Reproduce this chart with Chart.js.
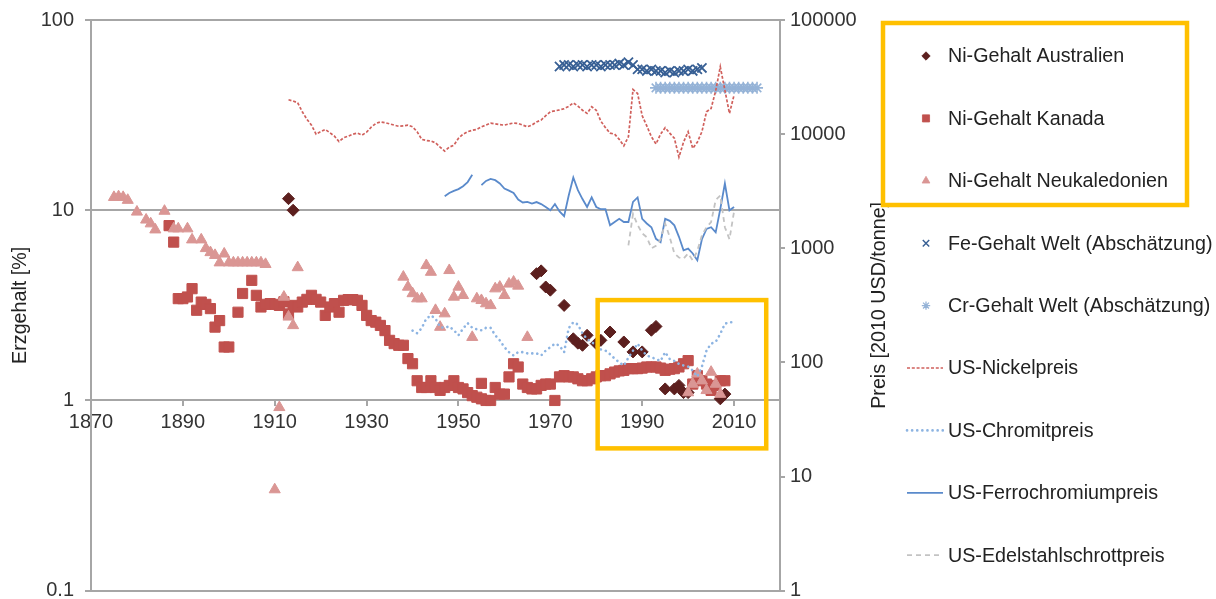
<!DOCTYPE html>
<html>
<head>
<meta charset="utf-8">
<script src="https://cdn.jsdelivr.net/npm/chart.js@4.4.1/dist/chart.umd.min.js"></script>
<style>
    html, body { margin: 0; padding: 0; background: #fff; }
</style>
</head>
<body>
<canvas id="chart" width="1216" height="599"></canvas>
<script>
// --- DATA ---
const xTicks = [1870, 1890, 1910, 1930, 1950, 1970, 1990, 2010];
const gradeTicks = [0.1, 1, 10, 100];
const priceTicks = [1, 10, 100, 1000, 10000, 100000];

// Ni-Gehalt Australien [%]
const ausYears = [1913, 1914, 1967, 1968, 1969, 1970, 1973, 1975, 1976, 1977, 1978, 1980, 1981, 1983, 1986,
    1988, 1990, 1992, 1993, 1995, 1997, 1998, 1999, 2000, 2002, 2007, 2008];
const ausGrade = [11.5, 10.0, 4.64, 4.8, 3.95, 3.8, 3.16, 2.11, 2.0, 1.95, 2.2, 1.99, 2.07, 2.29, 2.03,
    1.8, 1.8, 2.34, 2.45, 1.15, 1.15, 1.2, 1.1, 1.1, 1.27, 1.02, 1.08];

// Ni-Gehalt Kanada [%]
const kanYears = [1887, 1888, 1889, 1890, 1891, 1892, 1893, 1894, 1895, 1896, 1897, 1898, 1899, 1900, 1902, 1903,
    1905, 1906, 1907, 1908, 1909, 1910, 1911, 1912, 1913, 1914, 1915, 1916, 1917, 1918, 1919, 1920,
    1921, 1922, 1923, 1924, 1925, 1926, 1927, 1928, 1929, 1930, 1931, 1932, 1933, 1934, 1935, 1936,
    1937, 1938, 1939, 1940, 1941, 1942, 1943, 1944, 1945, 1946, 1947, 1948, 1949, 1950, 1951, 1952,
    1953, 1954, 1955, 1955, 1956, 1957, 1958, 1959, 1960, 1961, 1962, 1963, 1964, 1965, 1966, 1967,
    1968, 1969, 1970, 1971, 1972, 1973, 1974, 1975, 1976, 1977, 1978, 1979, 1980, 1981, 1982, 1983,
    1984, 1985, 1986, 1987, 1988, 1989, 1990, 1991, 1992, 1993, 1994, 1995, 1996, 1997, 1998, 1999,
    2000, 2001, 2002, 2003, 2004, 2005, 2006, 2007, 2008];
const kanGrade = [8.3, 6.8, 3.43, 3.43, 3.5, 3.87, 2.98, 3.29, 3.2, 3.04, 2.43, 2.63, 1.91, 1.91, 2.91, 3.65,
    4.28, 3.57, 3.1, 3.2, 3.23, 3.2, 3.16, 3.3, 2.85, 3.16, 3.1, 3.29, 3.4, 3.57, 3.4, 3.29,
    2.8, 3.1, 3.23, 2.91, 3.36, 3.39, 3.39, 3.36, 3.16, 2.8, 2.63, 2.58, 2.48, 2.33, 2.07, 1.99,
    1.95, 1.95, 1.66, 1.56, 1.27, 1.17, 1.17, 1.27, 1.17, 1.13, 1.17, 1.2, 1.27, 1.17, 1.15, 1.1,
    1.06, 1.04, 1.23, 1.02, 1.0, 1.0, 1.17, 1.08, 1.08, 1.33, 1.56, 1.5, 1.22, 1.17, 1.15, 1.15,
    1.2, 1.22, 1.22, 1.0, 1.33, 1.35, 1.33, 1.33, 1.3, 1.27, 1.27, 1.3, 1.33, 1.35, 1.35, 1.38,
    1.41, 1.43, 1.44, 1.47, 1.47, 1.47, 1.48, 1.5, 1.5, 1.5, 1.48, 1.44, 1.46, 1.47, 1.5, 1.56,
    1.62, 1.22, 1.35, 1.27, 1.22, 1.13, 1.2, 1.27, 1.27];

// Ni-Gehalt Neukaledonien [%]
const neuYears = [1875, 1876, 1877, 1878, 1880, 1882, 1883, 1884, 1886, 1888, 1889, 1891, 1892, 1894, 1895, 1896,
    1897, 1898, 1899, 1900, 1901, 1902, 1903, 1904, 1905, 1906, 1907, 1908, 1910, 1911, 1912, 1913,
    1914, 1915, 1938, 1939, 1940, 1941, 1942, 1943, 1944, 1945, 1946, 1947, 1948, 1949, 1950, 1951,
    1953, 1954, 1955, 1956, 1957, 1958, 1959, 1960, 1961, 1962, 1963, 1965,
    2000, 2001, 2002, 2003, 2004, 2005, 2006, 2007];
const neuGrade = [11.7, 11.8, 11.7, 11.3, 9.8, 8.9, 8.5, 7.9, 9.9, 8.0, 8.0, 8.0, 7.0, 7.0, 6.3, 6.0,
    5.8, 5.3, 5.9, 5.3, 5.3, 5.3, 5.3, 5.3, 5.3, 5.3, 5.3, 5.2, 0.34, 0.92, 3.5, 2.75,
    2.48, 5.0, 4.46, 3.95, 3.65, 3.43, 3.43, 5.13, 4.73, 2.98, 2.43, 2.86, 4.83, 3.5, 3.95, 3.57,
    2.15, 3.43, 3.36, 3.23, 3.16, 3.87, 3.95, 3.57, 4.1, 4.2, 4.0, 2.15,
    1.1, 1.22, 1.38, 1.27, 1.13, 1.41, 1.22, 1.08];

// Fe-Gehalt Welt [%], 1972-2003
const feFrom = 1972;
const feGrade = [57, 58, 58, 57, 58, 58, 57, 58, 58, 57, 58, 58, 58, 59, 58, 60,
    58, 55, 55, 54, 55, 54, 54, 53, 54, 53, 54, 54, 55, 54, 55, 56];

// Cr-Gehalt Welt [%], 1993-2015
const crFrom = 1993;
const crGrade = [44, 44, 44, 44, 44, 44, 44, 44, 44, 44, 44, 44,
    44, 44, 44, 44, 44, 44, 44, 44, 44, 44, 44];

// US-Nickelpreis [2010 USD/t], 1913-2010
const nickelFrom = 1913;
const nickelPrice = [20000, 19500, 18800, 15700, 13500, 12000, 10000, 10500, 11000, 10300,
    9600, 8600, 9300, 9600, 10000, 10200, 9800, 10400, 11500, 12400,
    12800, 12600, 12300, 12000, 11700, 11800, 12000, 11600, 10500, 9000,
    8800, 8700, 8400, 7700, 7100, 7700, 8000, 9200, 10000, 10500,
    10800, 11000, 11600, 12000, 12500, 12300, 12100, 12000, 12300, 12500,
    12400, 12000, 11600, 12000, 12800, 13300, 14500, 15700, 16000, 16300,
    16700, 17500, 18800, 17600, 16200, 15200, 17400, 16200, 13000, 11400,
    10200, 10000, 9000, 7900, 9500, 24600, 22700, 14500, 11800, 9500,
    8200, 10000, 11400, 10200, 9200, 6300, 8500, 10500, 7500, 8500,
    10500, 15700, 16800, 24000, 38900, 24300, 15200, 22000];

// US-Chromitpreis [2010 USD/t], 1940-2010
const chromitFrom = 1940;
const chromitPrice = [190, 180, 200, 242, 258, 242, 204, 201, 207, 191,
    173, 198, 221, 201, 195, 191, 201, 201, 173, 156,
    136, 123, 115, 123, 123, 120, 120, 120, 115, 127,
    136, 146, 140, 123, 200, 225, 215, 180, 160, 151,
    140, 130, 127, 118, 108, 100, 94, 110, 127, 146,
    127, 115, 111, 107, 103, 123, 107, 103, 97, 94,
    92, 85, 75, 92, 127, 146, 151, 178, 218, 225, 225];

// US-Ferrochromiumpreis [2010 USD/t], 1947-2010 (no value 1954)
const ferroFrom = 1947;
const ferroPrice = [2860, 3050, 3180, 3300, 3500, 3800, 4400, null, 3570, 3890,
    4050, 3950, 3700, 3340, 3200, 3050, 2670, 2520, 2550, 2460,
    2540, 2440, 2300, 2150, 2440, 2100, 1910, 2900, 4170, 3230,
    2700, 2300, 2790, 2300, 2200, 2200, 1590, 1700, 1810, 1700,
    1700, 2550, 2790, 1810, 1650, 1530, 1210, 1130, 1810, 1740,
    1590, 1260, 960, 994, 900, 785, 1200, 1480, 1530, 1380,
    2210, 3690, 2150, 2300];

// US-Edelstahlschrottpreis [2010 USD/t], 1987-2010
const scrapFrom = 1987;
const scrapPrice = [1060, 2000, 1600, 1350, 1250, 1000, 1050, 1200, 1650, 1250,
    900, 830, 810, 900, 785, 950, 1300, 1530, 1700, 2640,
    2900, 1530, 1200, 2100];

// highlighted region (years / ore grade)
const highlight = { from: 1980.3, to: 2017, low: 0.56, high: 3.37 };

// --- STYLE ---
const FONT = '"Liberation Sans", Arial, sans-serif';
const TEXT = '#222222';
const GRID = '#A6A6A6';
const YELLOW = '#FFC000';
const LEG = { top: 56, step: 62.4, marker: 926, line0: 907, line1: 943, text: 948, font: 19.7 };
const LEG_BOX = { left: 883, top: 23, right: 1187, bottom: 205 };

Chart.defaults.font.family = FONT;
Chart.defaults.font.size = 20;
Chart.defaults.color = TEXT;

const pairs = (xs, ys) => xs.map((x, i) => ({ x: x, y: ys[i] }));
const yearly = (from, vals) => vals.map((v, i) => ({ x: from + i, y: v }));

function markers(label, data, style, radius, color, width) {
    return {
        label: label, data: data, yAxisID: 'y', showLine: false,
        pointStyle: style, pointRadius: radius, pointHoverRadius: radius,
        backgroundColor: color, borderColor: color, pointBorderWidth: width, borderWidth: width
    };
}

function priceLine(label, data, color, width, dash, cap) {
    return {
        label: label, data: data, yAxisID: 'y2', showLine: true, pointRadius: 0,
        borderColor: color, backgroundColor: color, borderWidth: width,
        borderDash: dash, borderCapStyle: cap || 'butt', tension: 0, spanGaps: false
    };
}

const datasets = [
    markers('Ni-Gehalt Australien', pairs(ausYears, ausGrade), 'rectRot', 6, '#5C1F1E', 1),
    markers('Ni-Gehalt Kanada', pairs(kanYears, kanGrade), 'rect', 7.2, '#C0504D', 1),
    markers('Ni-Gehalt Neukaledonien', pairs(neuYears, neuGrade), 'triangle', 6.4, '#DA9694', 1),
    markers('Fe-Gehalt Welt (Abschätzung)', yearly(feFrom, feGrade), 'crossRot', 6.5, '#375F94', 1.8),
    markers('Cr-Gehalt Welt (Abschätzung)', yearly(crFrom, crGrade), 'star', 6, '#95B3D7', 1.6),
    priceLine('US-Nickelpreis', yearly(nickelFrom, nickelPrice), '#D0605C', 1.7, [3, 1.8]),
    priceLine('US-Chromitpreis', yearly(chromitFrom, chromitPrice), '#8DB4E2', 2.6, [0.1, 5], 'round'),
    priceLine('US-Ferrochromiumpreis', yearly(ferroFrom, ferroPrice), '#5A8ACB', 1.8, []),
    priceLine('US-Edelstahlschrottpreis', yearly(scrapFrom, scrapPrice), '#C3C3C3', 1.8, [5, 4])
];
datasets.forEach((ds, i) => { ds.order = datasets.length - i; });

// --- DECORATION: legend, right axis title, highlight boxes ---
const decor = {
    id: 'decor',
    afterDraw(chart) {
        const ctx = chart.ctx;
        const xs = chart.scales.x, ys = chart.scales.y, area = chart.chartArea;

        chart.data.datasets.forEach((ds, i) => {
            const cy = LEG.top + i * LEG.step;
            ctx.save();
            if (ds.showLine === false) {
                ctx.fillStyle = ds.backgroundColor;
                ctx.strokeStyle = ds.borderColor;
                ctx.lineWidth = ds.borderWidth * 0.8;
                Chart.helpers.drawPoint(ctx, { pointStyle: ds.pointStyle, radius: ds.pointRadius * 0.7, rotation: 0, borderWidth: ds.borderWidth * 0.8 }, LEG.marker, cy);
            } else {
                ctx.strokeStyle = ds.borderColor;
                ctx.lineWidth = ds.borderWidth;
                ctx.lineCap = ds.borderCapStyle;
                ctx.setLineDash(ds.borderDash);
                ctx.beginPath();
                ctx.moveTo(LEG.line0, cy);
                ctx.lineTo(LEG.line1, cy);
                ctx.stroke();
                ctx.setLineDash([]);
            }
            ctx.fillStyle = TEXT;
            ctx.font = LEG.font + 'px ' + FONT;
            ctx.textAlign = 'left';
            ctx.textBaseline = 'middle';
            ctx.fillText(ds.label, LEG.text, cy + 1);
            ctx.restore();
        });

        // right axis title, reading bottom to top
        ctx.save();
        ctx.translate(880, (area.top + area.bottom) / 2);
        ctx.rotate(-Math.PI / 2);
        ctx.fillStyle = TEXT;
        ctx.font = LEG.font + 'px ' + FONT;
        ctx.textAlign = 'center';
        ctx.textBaseline = 'middle';
        ctx.fillText('Preis [2010 USD/tonne]', 0, 0);
        ctx.restore();

        // yellow highlight boxes
        ctx.save();
        ctx.strokeStyle = YELLOW;
        ctx.lineWidth = 4.5;
        const x0 = xs.getPixelForValue(highlight.from), x1 = xs.getPixelForValue(highlight.to);
        const y0 = ys.getPixelForValue(highlight.high), y1 = ys.getPixelForValue(highlight.low);
        ctx.strokeRect(x0, y0, x1 - x0, y1 - y0);
        ctx.strokeRect(LEG_BOX.left, LEG_BOX.top, LEG_BOX.right - LEG_BOX.left, LEG_BOX.bottom - LEG_BOX.top);
        ctx.restore();
    }
};

const fixedTicks = list => scale => { scale.ticks = list.map(v => ({ value: v })); };
const noPad = width => scale => { scale.width = width; scale.paddingTop = 0; scale.paddingBottom = 0; };

new Chart(document.getElementById('chart'), {
    type: 'line',
    data: { datasets: datasets },
    options: {
        responsive: false,
        animation: false,
        events: [],
        layout: { padding: { left: 0, top: 20, right: 326, bottom: 7 } },
        plugins: { legend: { display: false }, tooltip: { enabled: false } },
        scales: {
            x: {
                type: 'linear', min: 1870, max: 2020,
                position: { y: 1 },
                afterBuildTicks: fixedTicks(xTicks),
                grid: { drawOnChartArea: false, tickLength: 5, tickColor: GRID, lineWidth: 2 },
                border: { display: true, color: GRID, width: 2 },
                ticks: { autoSkip: false, maxRotation: 0, padding: 5, color: '#333', callback: v => String(v) }
            },
            y: {
                type: 'logarithmic', position: 'left', min: 0.1, max: 100,
                afterBuildTicks: fixedTicks(gradeTicks),
                afterFit: noPad(91),
                grid: { color: GRID, lineWidth: 2, tickLength: 6, tickColor: GRID },
                border: { display: true, color: GRID, width: 2 },
                ticks: { autoSkip: false, padding: 11, color: '#333', callback: v => String(v) },
                title: { display: true, text: 'Erzgehalt [%]', color: TEXT, font: { size: 19.7 }, padding: { top: 9, bottom: 0 } }
            },
            y2: {
                type: 'logarithmic', position: 'right', min: 1, max: 100000,
                afterBuildTicks: fixedTicks(priceTicks),
                afterFit: noPad(110),
                grid: { drawOnChartArea: false, lineWidth: 2, tickLength: 5, tickColor: GRID },
                border: { display: true, color: GRID, width: 2 },
                ticks: { autoSkip: false, padding: 5, color: '#333', callback: v => String(v) }
            }
        }
    },
    plugins: [decor]
});
</script>
</body>
</html>
